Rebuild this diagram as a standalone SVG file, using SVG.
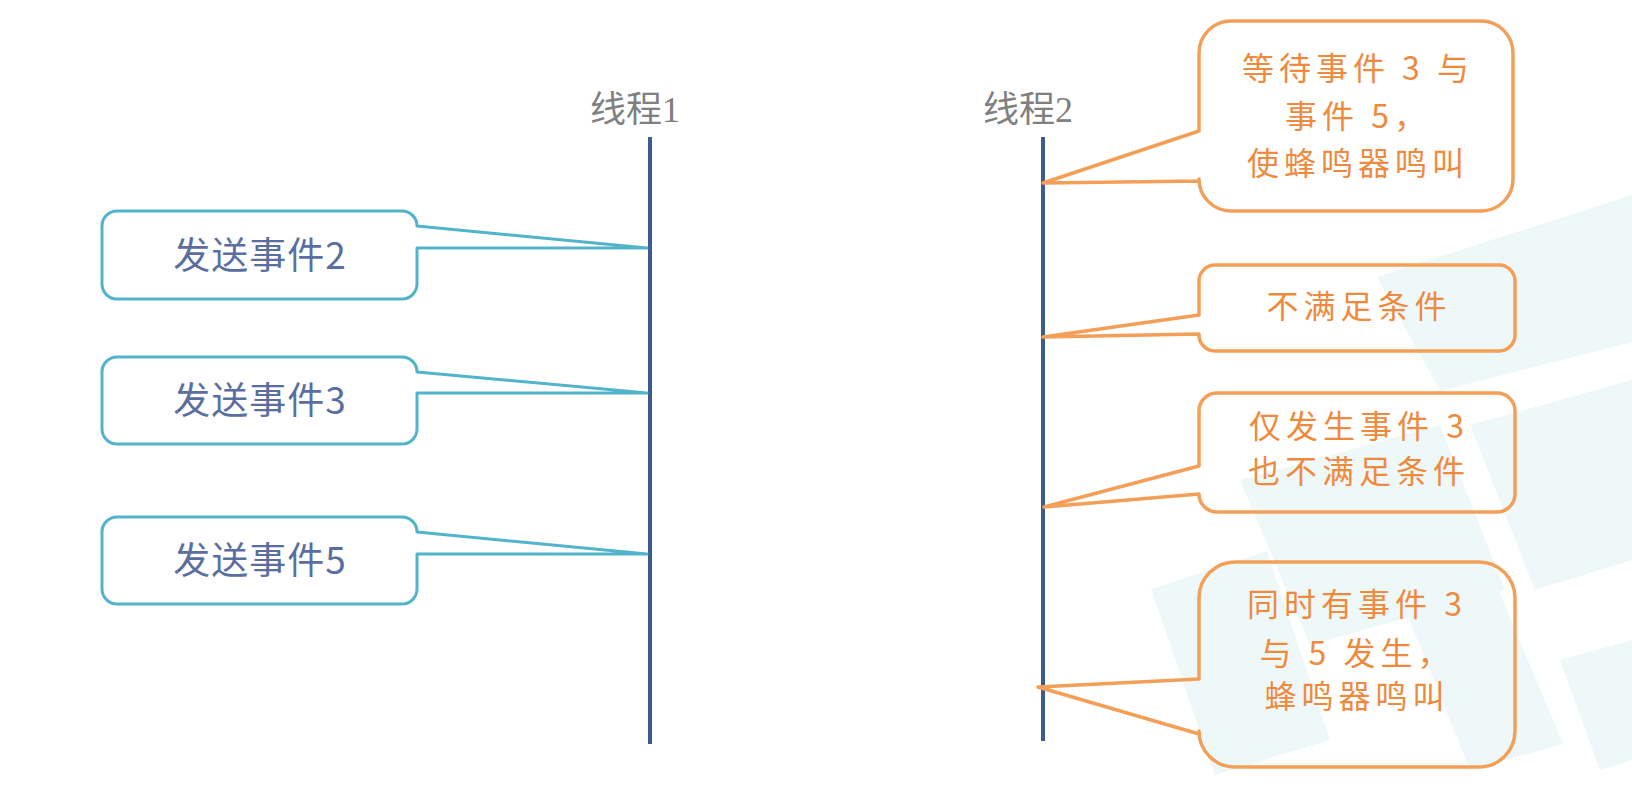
<svg xmlns="http://www.w3.org/2000/svg" width="1632" height="791" viewBox="0 0 1632 791">
  <style>
    .tile { fill: #eef8f8; }
    .thread { stroke: #3d5b8c; stroke-width: 4; fill: none; }
    .tlabel { font-family: "Liberation Serif", "Noto Sans CJK SC", serif; font-size: 36px; fill: #808080; text-anchor: middle; }
    .send { fill: none; stroke: #52b4ca; stroke-width: 3; stroke-linejoin: round; }
    .sendtxt { font-family: "Noto Sans CJK SC", sans-serif; font-size: 37px; fill: #5a6e9f; text-anchor: middle; letter-spacing: 1px; }
    .wait { fill: none; stroke: #f49f58; stroke-width: 3.5; stroke-linejoin: round; }
    .waittxt { font-family: "Noto Sans CJK SC", sans-serif; font-size: 32px; fill: #ee8a3e; text-anchor: middle; letter-spacing: 5px; }
  </style>
  <rect width="1632" height="791" fill="#ffffff"/>
  <g id="watermark">
    <polygon class="tile" points="1377,277 1632,195 1632,342 1440,391"/>
    <polygon class="tile" points="1470,425 1632,380 1632,560 1535,590"/>
    <polygon class="tile" points="1240,480 1440,425 1505,590 1310,645"/>
    <polygon class="tile" points="1151,589 1267,551 1330,740 1215,775"/>
    <polygon class="tile" points="1397,589 1488,565 1563,744 1470,770"/>
    <polygon class="tile" points="1313,520 1455,490 1470,534 1330,560"/>
    <polygon class="tile" points="1560,660 1632,640 1632,760 1600,770"/>
  </g>
  <g id="connectors">
    <line id="thread1-line" class="thread" x1="650" y1="137" x2="650" y2="744"/>
    <line id="thread2-line" class="thread" x1="1043" y1="137" x2="1043" y2="741"/>
  </g>
  <g id="thread1-label"><text class="tlabel" x="635" y="122">线程1</text></g>
  <g id="thread2-label"><text class="tlabel" x="1028" y="122">线程2</text></g>

  <g id="send2">
    <path class="send" d="M117,211 H402 A15,15 0 0 1 417,226 L647,248 L417,248 V284 A15,15 0 0 1 402,299 H117 A15,15 0 0 1 102,284 V226 A15,15 0 0 1 117,211 Z"/>
    <text class="sendtxt" x="260" y="269">发送事件2</text>
  </g>
  <g id="send3">
    <path class="send" d="M117,357 H402 A15,15 0 0 1 417,372 L647,393 L417,393 V429 A15,15 0 0 1 402,444 H117 A15,15 0 0 1 102,429 V372 A15,15 0 0 1 117,357 Z"/>
    <text class="sendtxt" x="260" y="414">发送事件3</text>
  </g>
  <g id="send5">
    <path class="send" d="M117,517 H402 A15,15 0 0 1 417,532 L647,554 L417,554 V589 A15,15 0 0 1 402,604 H117 A15,15 0 0 1 102,589 V532 A15,15 0 0 1 117,517 Z"/>
    <text class="sendtxt" x="260" y="574">发送事件5</text>
  </g>

  <g id="wait35">
    <path class="wait" d="M1231,21 H1481 A32,32 0 0 1 1513,53 V179 A32,32 0 0 1 1481,211 H1231 A32,32 0 0 1 1199,179 V181 L1043,183 L1199,131 V53 A32,32 0 0 1 1231,21 Z"/>
    <text class="waittxt" x="1358" y="80">等待事件 3 与</text>
    <text class="waittxt" x="1358" y="128">事件 5，</text>
    <text class="waittxt" x="1358" y="175">使蜂鸣器鸣叫</text>
  </g>
  <g id="not-met">
    <path class="wait" d="M1215,265 H1499 A16,16 0 0 1 1515,281 V335 A16,16 0 0 1 1499,351 H1215 A16,16 0 0 1 1199,335 V334 L1043,337 L1199,315 V281 A16,16 0 0 1 1215,265 Z"/>
    <text class="waittxt" x="1359" y="318">不满足条件</text>
  </g>
  <g id="only3">
    <path class="wait" d="M1217,393 H1497 A18,18 0 0 1 1515,411 V494 A18,18 0 0 1 1497,512 H1217 A18,18 0 0 1 1199,494 L1044,507 L1199,466 V411 A18,18 0 0 1 1217,393 Z"/>
    <text class="waittxt" x="1359" y="438">仅发生事件 3</text>
    <text class="waittxt" x="1359" y="483">也不满足条件</text>
  </g>
  <g id="both35">
    <path class="wait" d="M1235,562 H1479 A36,36 0 0 1 1515,598 V731 A36,36 0 0 1 1479,767 H1235 A36,36 0 0 1 1199,731 V734 L1038,687 L1199,679 V598 A36,36 0 0 1 1235,562 Z"/>
    <text class="waittxt" x="1357" y="616">同时有事件 3</text>
    <text class="waittxt" x="1357" y="665">与 5 发生，</text>
    <text class="waittxt" x="1357" y="708">蜂鸣器鸣叫</text>
  </g>
</svg>
